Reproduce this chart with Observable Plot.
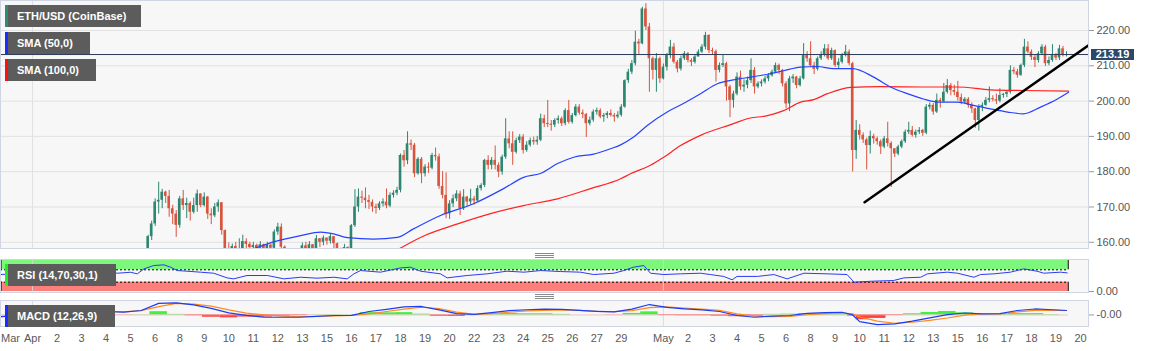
<!DOCTYPE html>
<html><head><meta charset="utf-8">
<script src="https://cdn.jsdelivr.net/npm/d3@7"></script>
<script src="https://cdn.jsdelivr.net/npm/@observablehq/plot@0.6"></script>
<style>
body{margin:0;background:#fff;font-family:"Liberation Sans",Arial,sans-serif;}
#wrap{position:relative;width:1153px;height:351px;overflow:hidden;background:#fff;}
.panel{position:absolute;left:0;}
.panel svg{display:block;overflow:visible;}
.tag{position:absolute;left:5px;height:22px;background:#5c5c5c;color:#fff;font:bold 11px "Liberation Sans",Arial,sans-serif;line-height:22px;padding-left:9px;box-sizing:border-box;border-left:3px solid;white-space:nowrap;}
.handle{position:absolute;width:19px;height:3px;border-top:1px solid #8a8a8a;border-bottom:1px solid #8a8a8a;}
.handle::after{content:"";position:absolute;left:0;right:0;top:1px;height:1px;background:#8a8a8a;}
#ptag{position:absolute;left:1091px;width:43px;height:11px;background:#2d4768;color:#fff;font:bold 11px "Liberation Sans",Arial,sans-serif;line-height:11px;text-align:center;}
</style></head>
<body>
<div id="wrap">
  <div class="panel" id="main" style="top:0"></div>
  <div class="panel" id="rsi" style="top:259px"></div>
  <div class="panel" id="macd" style="top:300px"></div>
  <div class="tag" style="top:5px;width:136px;border-color:#2e8b74">ETH/USD (CoinBase)</div>
  <div class="tag" style="top:32px;width:85px;border-color:#1b2cff">SMA (50,0)</div>
  <div class="tag" style="top:59px;width:91px;border-color:#ff1010">SMA (100,0)</div>
  <div class="tag" style="top:264px;width:111px;border-color:#22ee22">RSI (14,70,30,1)</div>
  <div class="tag" style="top:305px;width:110px;border-color:#1b2cff">MACD (12,26,9)</div>
  <div class="handle" style="left:535px;top:253px"></div>
  <div class="handle" style="left:535px;top:294px"></div>
  <div id="ptag">213.19</div>
</div>
<script>
// ---- data: 4-hour candles, index 0 = 1 Apr 00:00 ----
const candleStart = 33;
const firstOpen = 150;
const close = [
161.6,165.2,171.4,171.9,174.2,173.0,169.5,168,164.8,172.3,
170.4,171.0,168.5,170.4,173.7,170.4,172.8,168.0,167.5,170.0,
171.2,163.3,158.2,157.5,158.8,157,157.5,160.2,159.4,158.5,
159.1,158.3,159.3,158.0,159.2,158.3,162.9,164.3,158.6,157.3,
155,153.5,154,156,159.0,158,159.3,158.2,161.0,160,
161.2,160.3,161.6,159.6,157.5,157.0,158.5,157.3,164.7,170.0,
172.8,172.5,171.8,171.3,170.0,169.6,170.9,171.4,170.3,173.3,
173.9,174.7,184.6,183.1,187.9,187.5,179.4,183.5,179.4,181.3,
181.0,184.6,184.2,175.8,173.3,168.1,170.9,172.3,173.7,169.5,
172.8,171.4,172.3,171.7,175.2,176.1,183.2,181.8,183.2,181.8,
179.9,184.1,189.3,187.9,185.5,188.8,189.8,186.0,187.5,188.8,
188.4,188.9,195,193.6,193.4,193.2,194.5,195,193.6,197.3,
194,195.9,198.3,196.6,196.2,193.6,194.6,196.9,197.3,195.5,
195.9,196.5,195.9,195.5,196,198.3,205.8,208.2,210.6,216.7,
216.2,226.1,221,212,208.7,212,206.3,209.6,212.9,215.3,
211,209.1,212,213.4,211.5,211,212.5,213.9,215.3,218.6,
214.3,214,208.7,210.1,210.6,204,200.2,202,206.8,204,
204.5,205.8,208.7,204,204.9,205.4,206.3,207.2,208.2,210.1,
208.7,204.9,199.2,206.3,206.8,204.4,206.3,212.9,212,210,
209,212,213,214.8,212,214.3,210.1,211,212.9,213.9,
210.6,186,191.7,190.3,189,187.4,190,189.3,188.5,187,
189.3,188,186.5,185,187,188.5,191.2,191.7,190.3,191.2,
191.7,190.9,198.3,198.8,196.9,200.2,199.8,202.5,204.4,203,
202.5,201,199.7,200.5,198.8,197.8,194.5,198.3,198.8,200.2,
200.7,200.4,200,201.6,201.9,202.5,208.7,208.3,207.3,210.1,
215.3,213.9,212.4,211.5,213.4,215.3,210.6,211.5,212.9,212.2,
214.8,212.9,213.19];
const high = [
162,166,172.3,177.0,175,174.5,174.7,170.5,169,173,
174.7,172.5,171.5,172.5,174.8,173.6,174,173,169.5,171,
172,171,163.5,159.8,159.5,160,161,162,161,160,
160,159.5,160.2,159.5,160,159.5,163.5,165.4,165.2,159,
157.5,156,156.5,158,159.8,160,160.2,159.4,161.9,161,
161.8,161.2,162.4,161.6,159.8,158.3,159.4,158.7,165,174.9,
175.1,174.5,175.4,173.3,172,170.8,171.5,172.3,175.1,174,
174.6,175.6,185,186,191.3,189,188,184,184,182,
182.5,185.2,186.7,185,180,179.7,171.8,173.4,174.6,174.5,
174.9,173,175,173,176,176.6,183.5,184.5,184,187.3,
182.5,184.7,195,191.3,191.3,189.5,190.5,190.5,188.5,189.5,
189.8,190,196.3,196,200.2,194.5,195,195.8,195.5,197.8,
200.2,196.5,199,199,197.5,196.5,195.5,197.5,198,197.8,
196.5,197,197.5,196.5,197,199,206,209,211.5,219.8,
217.5,226.6,227.6,222,212.5,213.5,212.5,210.5,213.5,217.2,
216.3,211.5,212.8,214,213.8,212,213,214.5,216,219.5,
218.8,215,214.5,210.8,213,211,204.5,202.8,208,208.5,
206,206.8,212,209.5,205.5,206,207,207.8,208.8,210.8,
210.5,209,205.5,207,207.5,207,207,216.3,214,216.8,
211,212.5,214,216,216,215,214.5,212,213.5,215.8,
214.5,211,194.5,193.3,191,189.5,191.5,190.6,189.8,189,
190,194,188.5,186.5,187.5,189,191.8,194,192.8,191.8,
192.5,192,199,199.5,199.3,202,200.8,205,206.1,205,
204.5,205.6,202,201,201,199.5,198,199,199.5,201,
204,201.5,202,203.5,202.2,203,210,209.5,209,210.5,
217.5,216.8,214.5,213,214,216,215.8,212.5,216,213.5,
215.8,215.5,214];
const low = [
149,160.5,164.5,168,169.5,171,167.1,165,161.4,164,
169,166.7,166,168,168.5,169.8,170,166.5,165,167,
168.5,162,156,155,156,155,155.5,157,158,156.5,
157,156.5,157.5,156,157,156.5,157.5,162,157,155,
153.5,152,152.5,154,155.5,156,157,156.5,157.5,158.5,
159,159.2,159.5,158.2,156,155,156,155.5,157,164.2,
168.5,171,169.5,169.3,168.5,168,169,170,169.5,169.8,
172.5,173.2,174,181.3,182,186,178.3,179,176.6,178.5,
179.5,180.5,183,175,172.3,166.7,166.5,169.8,171.5,167.6,
169,170,170.5,170.5,171.5,174.5,175.5,180.5,180.5,180.5,
178.3,179,183.5,186.5,181.8,185,188,185,185.5,187,
187.5,187.5,188.5,192.5,192.5,191.5,192.5,193.5,192.8,193,
193.5,193.5,195.5,196,195,189.7,193,194,196,195,
194,195,195.5,194,195,195.5,198,205,207.5,210,
213,216,220,202.5,206,202.5,205,206,208.5,212,
210.5,208,208.5,211.5,210.8,209.8,210.5,212.5,213.5,214.5,
213.5,213,205.4,208,209.5,200,195.3,198,201.5,203,
202.5,203.5,205,202,203.5,204,204.8,205.5,206.8,207.8,
207.5,204,197.8,197,205,203.5,204,206,211,209.5,
207.5,208.5,211.5,212.5,211.5,211.5,209.5,209,210.5,212.5,
210,179.9,183.5,189,188,180.5,185,187.8,187.5,184.9,
186.5,187,175.5,184,184.5,186.5,188,190.5,189.8,189.5,
190.5,190,190.5,197.5,196,196.5,198,199.5,202,201.5,
201.5,200,199,199,198,196.5,192.3,191.5,197,198.5,
199.5,199.8,199,199.5,200.8,201,202,207.5,206.5,207,
209.5,213.4,211.5,209.5,210.8,213,209.8,210,211,211.5,
211.5,212.5,212.5];

const sma50Idx = [56.5,63,68.8,76.5,82.2,85.9,89.9,97.3,104.1,108.7,116.4,125.8,134.4,140.1,144.9,149.8,154.4,160.1,164.9,167.8,171.5,175.4,181.2,185.7,190.6,195.4,200,204.9,209.7,214.3,219.1,224,228.5,234,240,244.8,249.6,254.2,259,263.9,268.5,273.3,278.2,282.7,287.6,292.4,295.6];
const sma50Val = [156.8,158.2,160.1,161.9,162.9,162.4,161.3,160.9,161.4,163.8,167.6,170.9,175.2,178.4,179.5,182.3,184.1,185.0,186.5,187.6,189.8,193.1,197.0,199.3,202.1,204.9,206.0,206.8,207.6,208.6,209.6,209.8,209.2,209.2,206.8,204.0,202.1,200.6,199.7,199.7,198.8,197.8,196.9,196.4,198.3,200.6,202.5];
const sma100Idx = [104,111.6,121.3,130.7,140.1,149.8,159.2,167.8,170.6,176.3,180.1,184.9,190.6,200,203.9,209.7,214.3,219.1,222.9,226.8,233.4,241.9,254.2,263.9,273.3,282.7,295.6];
const sma100Val = [157.8,161.8,165.2,168.1,170.4,172.3,175.2,178.0,179.4,181.8,184.1,187.4,190.3,193.6,195.0,195.9,197.3,199.7,200.4,202.1,203.9,204.1,204.0,204.0,203.2,203.0,202.8];
const trendIdx = [237.4, 301.3];
const trendVal = [171.35, 215.8];
const lastPrice = 213.19;
const priceTicks = [160,170,180,190,200,210,220];
const monthStartIdx = [0, 180];

const rsiIdx = [-9.1,-3.4,2.3,8,13.7,19.4,24.2,28,29.9,31.8,34.6,37.5,39.4,41.3,44.1,47.9,51.7,55.5,57.4,61.2,67,71.7,76.5,81.2,86,89.8,91.7,93.6,99.3,105,107.8,110.7,116.4,118.3,124,129.7,135.4,140.2,145,150.6,156.3,160.1,165.9,168.7,171.5,174.4,176.3,180.1,184.9,190.6,193.4,197.2,199.6,201,206.8,211.5,215.3,220.1,226.7,232.4,234.4,239.1,245.7,248.6,253.4,255.3,261,263.9,268.6,270.5,274.3,279,282.8,286.6,288.5,293.3,295.2];
const rsiVal = [54.7,59,62,67.6,78.4,67,59,62,57,73,83.8,86,78.4,67.6,65.5,62.3,59,44,40.8,51.6,51.6,40.8,46,43,46,40.8,57,67.6,62.3,76,78.4,65.5,57,44,51.6,57,65.5,62.3,67.6,64.4,62.3,54.7,59,67.6,78.4,83.8,59,54.7,57,59,54.7,48.6,37.8,48.6,48.6,54.7,40.8,59,57,54.7,30,33,35.5,44,46,57,62.3,59,46,54.7,57,62.3,73,65.5,59,62.3,60];
const rsiUpper = 70, rsiLower = 30;

const macdIdx = [-9,-4,1,6,11,16,21,26,31,36,41,46,51,56,61,66,71,76,81,86,91,96,101,106,111,116,121,126,131,136,141,146,151,156,161,166,171,176,181,186,191,196,201,206,211,216,221,226,231,234,236,241,246,251,256,261,266,271,276,281,286,291,295];
const macdVal = [-0.9,-0.3,0.3,1.0,1.7,2.3,1.8,1.5,2.3,6.0,6.3,5.2,3.4,1.1,-0.2,-1.1,-1.2,-1.2,-0.7,-0.3,-0.2,1.8,2.9,4.2,4.4,2.6,0.7,0.3,1.2,2.2,2.7,3.0,2.9,2.4,1.9,1.6,3.0,5.4,3.9,3.2,2.6,1.8,-0.3,-1.2,-0.6,-0.3,0.8,1.2,1.4,0.0,-3.5,-5.0,-4.6,-3.2,-1.5,0.2,1.0,0.6,0.7,2.3,3.1,2.7,2.3];
const signalVal = [-0.9,-0.4,0.1,0.7,1.3,1.8,1.7,1.6,2.2,4.3,6.0,5.6,4.6,2.6,0.9,0.0,-0.6,-0.9,-0.8,-0.5,-0.3,0.6,1.8,3.0,4.0,3.3,1.5,0.3,0.7,1.4,2.1,2.4,2.6,2.4,1.9,1.7,2.2,3.8,4.2,3.6,3.0,2.4,0.6,-0.6,-0.9,-0.7,0.1,0.7,1.0,0.6,-1.0,-3.2,-4.3,-3.8,-2.8,-1.6,-0.1,0.5,0.5,1.6,2.4,2.5,2.3];

const tickIdx = [-7,0,7,14,21,28,35,42,49,56,63,70,77,84,91,98,105,112,119,126,133,140,147,154,161,168,180,187,194,201,208,215,222,229,236,243,250,257,264,271,278,285,292,299];
const tickLabels = ["Mar","Apr","2","3","4","5","6","8","9","10","11","12","13","15","16","17","18","19","20","22","23","24","25","26","27","29","May","2","3","4","5","6","8","9","10","11","12","13","15","16","17","18","19","20"];

// ---- derived tables ----
const GREEN = "#2d8670", RED = "#d9533d";
const candles = close.map((c, k) => {
  const o = k ? close[k-1] : firstOpen;
  const mid = (o + c) / 2;
  const thin = Math.abs(o - c) < 0.3;
  return {i: candleStart + k, o, c, h: Math.max(high[k], o, c), l: Math.min(low[k], o, c),
          up: c >= o, b1: thin ? mid - 0.15 : o, b2: thin ? mid + 0.15 : c};
});
const sma50 = sma50Idx.map((x, k) => ({x, y: sma50Val[k]}));
const sma100 = sma100Idx.map((x, k) => ({x, y: sma100Val[k]}));
const trend = trendIdx.map((x, k) => ({x, y: trendVal[k]}));
const rsi = rsiIdx.map((x, k) => ({x, y: rsiVal[k]}));
const macd = macdIdx.map((x, k) => ({x, m: macdVal[k], s: signalVal[k], h: macdVal[k] - signalVal[k],
  x1: k ? (x + macdIdx[k-1]) / 2 : x, x2: k < macdIdx.length - 1 ? (x + macdIdx[k+1]) / 2 : x + 0.5}));
const lastIdx = candleStart + close.length - 1;
const labelOf = new Map(tickIdx.map((t, k) => [t, tickLabels[k]]));

const X_DOMAIN = [-9.13, 301.28];
const W = 1153, MR = 65;
const FONT = {fontFamily: "Liberation Sans, Arial, sans-serif", fontSize: "11px", color: "#555", background: "transparent", overflow: "visible"};
const FRAME_FILL = "#f7f7f7", FRAME_STROKE = "#cfd5e3", GRID = "#e1e1e1";

// ---- main price panel ----
const mainPlot = Plot.plot({
  width: W, height: 249, marginLeft: 0, marginRight: MR, marginTop: 0, marginBottom: 1,
  style: FONT,
  x: {domain: X_DOMAIN, axis: null},
  y: {domain: [158.24, 228.5], axis: null},
  marks: [
    Plot.frame({fill: FRAME_FILL, stroke: null}),
    Plot.gridY(priceTicks, {stroke: GRID, strokeOpacity: 1}),
    Plot.ruleX(monthStartIdx, {stroke: GRID, strokeOpacity: 1}),
    Plot.ruleX(candles.filter(d => d.up), {x: "i", y1: "l", y2: "h", stroke: GREEN, clip: true}),
    Plot.ruleX(candles.filter(d => !d.up), {x: "i", y1: "l", y2: "h", stroke: RED, clip: true}),
    Plot.rect(candles.filter(d => d.up), {x1: d => d.i - 0.37, x2: d => d.i + 0.37, y1: "b1", y2: "b2", fill: GREEN, clip: true}),
    Plot.rect(candles.filter(d => !d.up), {x1: d => d.i - 0.37, x2: d => d.i + 0.37, y1: "b1", y2: "b2", fill: RED, clip: true}),
    Plot.line(sma100, {x: "x", y: "y", stroke: "#ff2222", strokeWidth: 1.2, curve: "monotone-x", clip: true}),
    Plot.line(sma50, {x: "x", y: "y", stroke: "#2742ff", strokeWidth: 1.2, curve: "monotone-x", clip: true}),
    Plot.ruleY([lastPrice], {stroke: "#2b3a55", strokeWidth: 1}),
    Plot.line(trend, {x: "x", y: "y", stroke: "#000", strokeWidth: 2.5, clip: true}),
    Plot.frame({stroke: FRAME_STROKE}),
    Plot.axisY(priceTicks, {anchor: "right", tickFormat: d => d.toFixed(2), tickSize: 5, tickPadding: 3, label: null, stroke: "#999", color: "#555"})
  ]
});
document.getElementById("main").appendChild(mainPlot);
const py = mainPlot.scale("y").apply(lastPrice);
document.getElementById("ptag").style.top = (py - 5.5) + "px";

// ---- RSI panel ----
const rsiPlot = Plot.plot({
  width: W, height: 33, marginLeft: 0, marginRight: MR, marginTop: 0, marginBottom: 0,
  style: FONT,
  x: {domain: X_DOMAIN, axis: null},
  y: {domain: [-3.2, 103.2], axis: null},
  marks: [
    Plot.frame({fill: FRAME_FILL, stroke: null}),
    Plot.rect([{y1: rsiUpper, y2: 100}], {x1: X_DOMAIN[0], x2: lastIdx + 0.5, y1: "y1", y2: "y2", fill: "#7cf77b"}),
    Plot.rect([{y1: 0, y2: rsiLower}], {x1: X_DOMAIN[0], x2: lastIdx + 0.5, y1: "y1", y2: "y2", fill: "#fd7f7c"}),
    Plot.ruleX(monthStartIdx, {stroke: "#d8d8d8", strokeOpacity: 0.8}),
    Plot.ruleY([rsiUpper, rsiLower], {x1: X_DOMAIN[0], x2: lastIdx + 0.5, stroke: "#000", strokeDasharray: "2,2"}),
    Plot.ruleX([X_DOMAIN[0] + 0.15, lastIdx + 0.5], {y1: rsiUpper, y2: 100, stroke: "#000"}),
    Plot.ruleX([X_DOMAIN[0] + 0.15, lastIdx + 0.5], {y1: 0, y2: rsiLower, stroke: "#000"}),
    Plot.line(rsi, {x: "x", y: "y", stroke: "#2a3cf0", strokeWidth: 1, clip: true}),
    Plot.frame({stroke: FRAME_STROKE}),
    Plot.axisY([0], {anchor: "right", tickFormat: d => d.toFixed(2), tickSize: 5, tickPadding: 3, label: null, stroke: "#999", color: "#555"})
  ]
});
document.getElementById("rsi").appendChild(rsiPlot);

// ---- MACD panel ----
const macdPlot = Plot.plot({
  width: W, height: 51, marginLeft: 0, marginRight: MR, marginTop: 0, marginBottom: 25,
  style: FONT,
  x: {domain: X_DOMAIN, axis: null},
  y: {domain: [-6, 7.5], axis: null},
  marks: [
    Plot.frame({fill: FRAME_FILL, stroke: null}),
    Plot.ruleX(monthStartIdx, {stroke: "#dcdcdc", strokeOpacity: 1}),
    Plot.rect(macd.filter(d => d.h >= 0), {x1: "x1", x2: "x2", y1: 0, y2: "h", fill: "#22ee22", fillOpacity: 0.85}),
    Plot.rect(macd.filter(d => d.h < 0), {x1: "x1", x2: "x2", y1: 0, y2: "h", fill: "#ff2020", fillOpacity: 0.85}),
    Plot.ruleY([0], {x1: X_DOMAIN[0], x2: lastIdx + 0.5, stroke: "#e8b0b0", strokeOpacity: 0.7}),
    Plot.line(macd, {x: "x", y: "s", stroke: "#ff8a1e", strokeWidth: 1.2, clip: true}),
    Plot.line(macd, {x: "x", y: "m", stroke: "#1c3df5", strokeWidth: 1.2, clip: true}),
    Plot.frame({stroke: FRAME_STROKE}),
    Plot.axisY([-0.001], {anchor: "right", tickFormat: d => d.toFixed(2), tickSize: 5, tickPadding: 3, label: null, stroke: "#999", color: "#555"}),
    Plot.axisX(tickIdx.slice(0, 1), {anchor: "bottom", tickFormat: d => labelOf.get(d), tickSize: 0, tickPadding: 8, label: null, color: "#5a5a5a", textAnchor: "start", dx: -7}),
    Plot.axisX(tickIdx.slice(1), {anchor: "bottom", tickFormat: d => labelOf.get(d), tickSize: 0, tickPadding: 8, label: null, color: "#5a5a5a"})
  ]
});
document.getElementById("macd").appendChild(macdPlot);
</script>
</body></html>
